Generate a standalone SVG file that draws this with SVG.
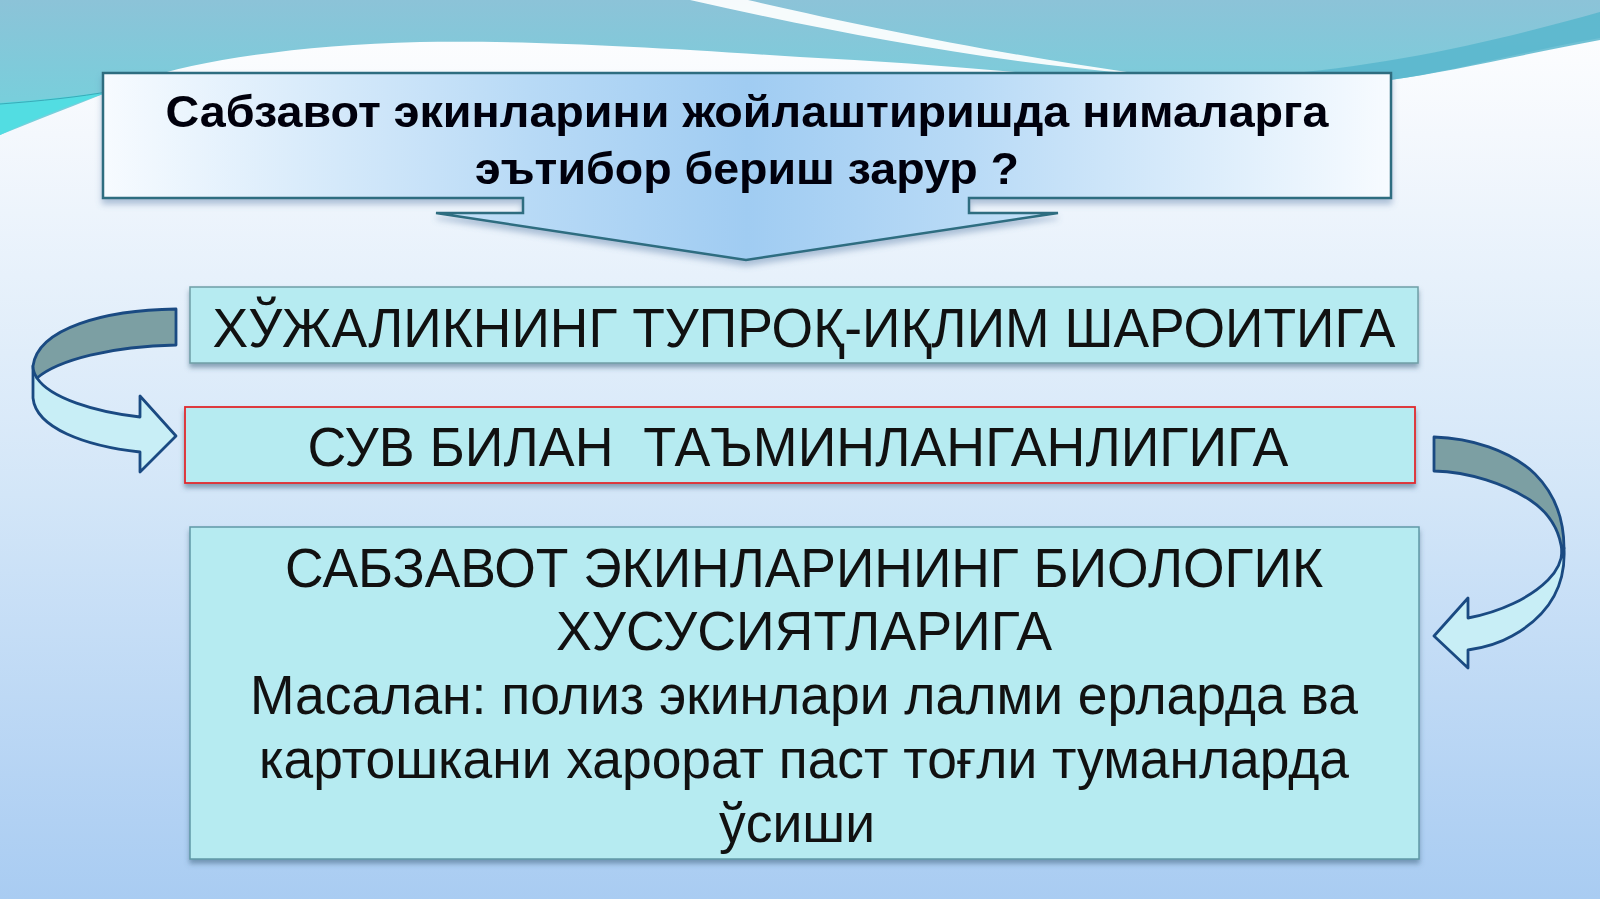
<svg xmlns="http://www.w3.org/2000/svg" width="1600" height="899" viewBox="0 0 1600 899">
<defs>
<linearGradient id="bg" x1="0" y1="0" x2="0" y2="899" gradientUnits="userSpaceOnUse">
<stop offset="0" stop-color="#ffffff"/>
<stop offset="0.15" stop-color="#f4f8fd"/>
<stop offset="0.55" stop-color="#d3e6f8"/>
<stop offset="1" stop-color="#a9ccf2"/>
</linearGradient>
<linearGradient id="teal" x1="0" y1="0" x2="0" y2="135" gradientUnits="userSpaceOnUse">
<stop offset="0" stop-color="#8cc3d8"/>
<stop offset="1" stop-color="#72d2dc"/>
</linearGradient>
<linearGradient id="callout" x1="103" y1="0" x2="1391" y2="0" gradientUnits="userSpaceOnUse">
<stop offset="0" stop-color="#f7fbff"/>
<stop offset="0.33" stop-color="#b8daf6"/>
<stop offset="0.5" stop-color="#a0ccf2"/>
<stop offset="0.67" stop-color="#b8daf6"/>
<stop offset="1" stop-color="#f7fbff"/>
</linearGradient>
<filter id="sh" x="-5%" y="-20%" width="110%" height="150%">
<feDropShadow dx="0" dy="4" stdDeviation="2.5" flood-color="#3f6480" flood-opacity="0.55"/>
</filter>
<filter id="sh2" x="-5%" y="-20%" width="110%" height="150%">
<feDropShadow dx="0" dy="5" stdDeviation="3" flood-color="#5b7fa8" flood-opacity="0.45"/>
</filter>
<style>
.box{fill:#b6ebf1;stroke:#6f9ea6;stroke-width:1.5;filter:url(#sh)}
.t{font-family:"Liberation Sans",Arial,sans-serif;font-size:56px;fill:#111;text-anchor:middle}
.tb{font-family:"Liberation Sans",Arial,sans-serif;font-size:45px;font-weight:bold;fill:#05050c;text-anchor:middle}
.dark{fill:#7c9fa3;stroke:#1a4a82;stroke-width:2.8;stroke-linejoin:round}
.light{fill:#c8eef6;stroke:#1a4a82;stroke-width:2.8;stroke-linejoin:round}
</style>
</defs>

<g id="background">
<rect x="0" y="0" width="1600" height="899" fill="url(#bg)"/>
<path d="M0,0 H1600 V38 C1520,52 1450,72 1390,80 L1100,80 C1000,70 900,62 800,57 C650,47 520,40 420,42 C300,45 200,60 140,80 C100,95 50,115 0,135 Z" fill="url(#teal)"/>
<path d="M0,103 C40,100 80,96 112,91 C70,105 30,120 0,135 Z" fill="#52dde2"/>
<path d="M0,104 C40,101 80,97 112,91" fill="none" stroke="#3aaab8" stroke-width="1"/>
<path d="M690,0 H748 C860,26 1000,54 1140,74 C990,62 840,34 690,0 Z" fill="#ffffff" opacity="0.92"/>
<path d="M1270,75 C1390,66 1500,40 1600,12 V40 C1520,55 1450,72 1390,80 Z" fill="#58b6cd" opacity="0.85"/>
</g>

<g id="question" filter="url(#sh2)">
<path d="M103,73 H1391 V198 H969 V213 H1058 L746,260 L436,213 H523 V198 H103 Z" fill="url(#callout)" stroke="#2d6d80" stroke-width="2.5" stroke-linejoin="miter"/>
<text class="tb" x="747" y="127" textLength="1163" lengthAdjust="spacingAndGlyphs">Сабзавот экинларини жойлаштиришда нималарга</text>
<text class="tb" x="747" y="184" textLength="544" lengthAdjust="spacingAndGlyphs">эътибор бериш зарур ?</text>
</g>

<g id="node-climate">
<rect class="box" x="190" y="287" width="1228" height="76"/>
<text class="t" x="804" y="347" textLength="1183" lengthAdjust="spacingAndGlyphs">ХЎЖАЛИКНИНГ ТУПРОҚ-ИҚЛИМ ШАРОИТИГА</text>
</g>

<g id="node-water">
<rect class="box" x="185" y="407" width="1230" height="76" style="stroke:#e0282c;stroke-width:1.8"/>
<text class="t" x="798" y="466" xml:space="preserve" textLength="981" lengthAdjust="spacingAndGlyphs">СУВ БИЛАН  ТАЪМИНЛАНГАНЛИГИГА</text>
</g>

<g id="node-biology">
<rect class="box" x="190" y="527" width="1229" height="332" style="stroke:#5f99a6"/>
<text class="t" x="804" y="587" textLength="1038" lengthAdjust="spacingAndGlyphs">САБЗАВОТ ЭКИНЛАРИНИНГ БИОЛОГИК</text>
<text class="t" x="804" y="650" textLength="496" lengthAdjust="spacingAndGlyphs">ХУСУСИЯТЛАРИГА</text>
<text class="t" x="804" y="714" textLength="1108" lengthAdjust="spacingAndGlyphs">Масалан: полиз экинлари лалми ерларда ва</text>
<text class="t" x="804" y="778" textLength="1090" lengthAdjust="spacingAndGlyphs">картошкани харорат паст тоғли туманларда</text>
<text class="t" x="797" y="842" textLength="156" lengthAdjust="spacingAndGlyphs">ўсиши</text>
</g>

<g id="connectors">
<g id="arrow-left">
<path class="light" d="M33,366 L33,398 C36,428 85,446 140,452 L140,472 L176,436 L140,396 L140,417 C95,412 50,398 37,378 Z"/>
<path class="dark" d="M176,309 C105,310 38,328 33,366 C33,371 35,375 37,378 C58,360 112,346 176,345 Z"/>
</g>
<g id="arrow-right">
<path class="light" d="M1564,548 C1566,585 1550,615 1512,636 C1498,644 1482,648 1468,650 L1468,668 L1434,636 L1468,598 L1468,618 C1500,612 1530,598 1548,580 C1558,570 1562,560 1562,550 Z"/>
<path class="dark" d="M1434,437 C1470,438 1510,450 1535,474 C1555,494 1564,520 1564,548 L1562,552 C1560,530 1548,512 1530,500 C1505,484 1470,472 1434,471 Z"/>
</g>
</g>
</svg>
